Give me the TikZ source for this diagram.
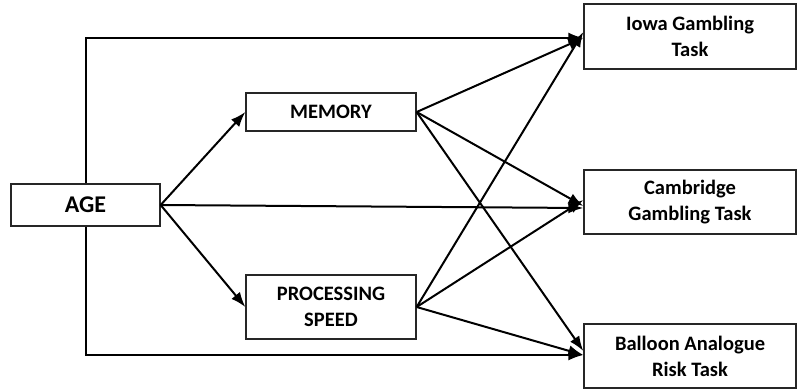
\documentclass[tikz,border=0pt]{standalone}
\usepackage{fontspec}
\setmainfont{Carlito}
\usetikzlibrary{arrows.meta}
\begin{document}
\begin{tikzpicture}[x=1pt,y=-1pt,
  box/.style={draw=black!85,line width=1.3pt,fill=white,inner sep=0pt,align=center,font=\fontsize{20.5}{26}\selectfont\bfseries},
  conn/.style={line width=2pt,-{Latex[length=15pt,width=11pt]}}]
\useasboundingbox (0,0) rectangle (798,389);
\node[box,minimum width=149pt,minimum height=42pt,font=\fontsize{24}{28}\selectfont\bfseries] (age) at (85.5,205) {AGE};
\node[box,minimum width=170pt,minimum height=38pt] (mem) at (331,112) {MEMORY};
\node[box,minimum width=170pt,minimum height=64pt] (ps) at (331,307) {PROCESSING\\SPEED};
\node[box,minimum width=212pt,minimum height=65pt] (iowa) at (690,36.5) {Iowa Gambling\\Task};
\node[box,minimum width=212pt,minimum height=64pt] (cgt) at (690,202) {Cambridge\\Gambling Task};
\node[box,minimum width=212pt,minimum height=64pt] (bart) at (690,356) {Balloon Analogue\\Risk Task};
\coordinate (ti) at (iowa.west |- 0,38);
\coordinate (bi) at (bart.west |- 0,355);
\coordinate (ci) at (cgt.west |- 0,208);
\draw[conn] (age.north) |- (ti);
\draw[conn] (age.south) |- (bi);
\draw[conn] (age.east) -- (mem.west);
\draw[conn] (age.east) -- (ps.west);
\draw[conn] (age.east) -- (ci);
\draw[conn] (mem.east) -- (ti);
\draw[conn] (mem.east) -- ([yshift=-4pt]cgt.west);
\draw[conn] (mem.east) -- ([yshift=4pt]bi);
\draw[conn] (ps.east) -- ([yshift=6pt]ti);
\draw[conn] (ps.east) -- ([yshift=2pt]cgt.west);
\draw[conn] (ps.east) -- (bi);
\end{tikzpicture}
\end{document}
